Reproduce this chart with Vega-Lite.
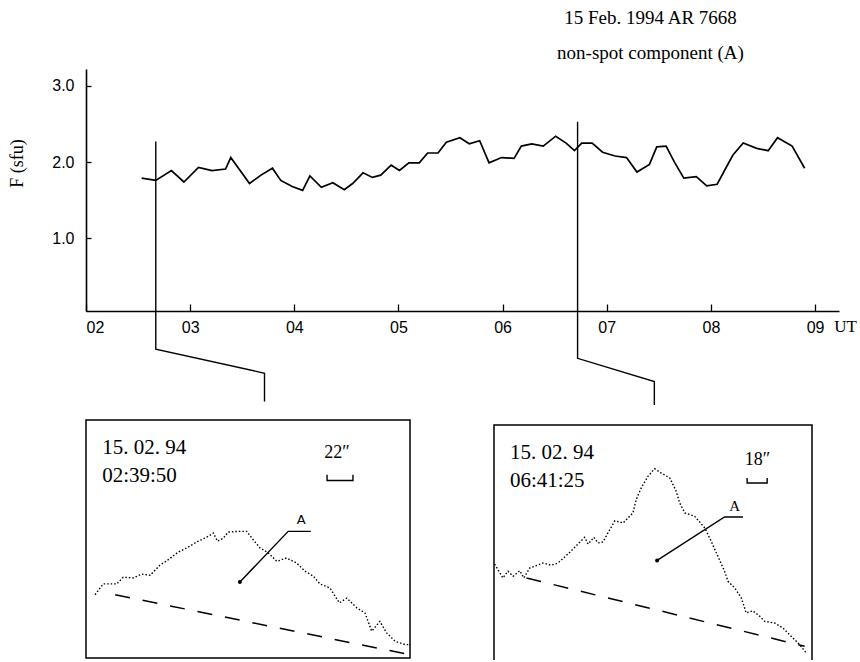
{
  "$schema": "https://vega.github.io/schema/vega-lite/v6.json",
  "background": "white",
  "padding": {"left": 8, "top": 9, "right": 0, "bottom": 0},
  "bounds": "flush",
  "spacing": 109,
  "config": {"view": {"stroke": null}, "font": "Liberation Serif"},
  "vconcat": [
    {
      "width": 753,
      "height": 242,
      "title": {"text": ["15 Feb. 1994 AR 7668", "non-spot component (A)"], "anchor": "middle", "dx": 188, "lineHeight": 35, "offset": 6, "font": "Liberation Serif", "fontSize": 19, "fontWeight": "normal", "color": "black"},
      "layer": [
        {
          "data": {"values": [
            {"time": 2.535, "flux": 1.79}, {"time": 2.67, "flux": 1.76}, {"time": 2.82, "flux": 1.89}, {"time": 2.94, "flux": 1.74},
            {"time": 3.08, "flux": 1.93}, {"time": 3.21, "flux": 1.89}, {"time": 3.34, "flux": 1.91}, {"time": 3.39, "flux": 2.06},
            {"time": 3.57, "flux": 1.72}, {"time": 3.68, "flux": 1.83}, {"time": 3.79, "flux": 1.92}, {"time": 3.87, "flux": 1.76},
            {"time": 3.98, "flux": 1.68}, {"time": 4.08, "flux": 1.63}, {"time": 4.15, "flux": 1.82}, {"time": 4.26, "flux": 1.67},
            {"time": 4.37, "flux": 1.73}, {"time": 4.48, "flux": 1.64}, {"time": 4.56, "flux": 1.72}, {"time": 4.66, "flux": 1.86},
            {"time": 4.75, "flux": 1.80}, {"time": 4.83, "flux": 1.83}, {"time": 4.93, "flux": 1.96}, {"time": 5.01, "flux": 1.89},
            {"time": 5.10, "flux": 1.99}, {"time": 5.20, "flux": 1.99}, {"time": 5.28, "flux": 2.12}, {"time": 5.38, "flux": 2.12},
            {"time": 5.46, "flux": 2.26}, {"time": 5.59, "flux": 2.32}, {"time": 5.68, "flux": 2.24}, {"time": 5.78, "flux": 2.28},
            {"time": 5.87, "flux": 1.99}, {"time": 5.99, "flux": 2.06}, {"time": 6.11, "flux": 2.05}, {"time": 6.18, "flux": 2.21},
            {"time": 6.28, "flux": 2.24}, {"time": 6.39, "flux": 2.21}, {"time": 6.51, "flux": 2.34}, {"time": 6.61, "flux": 2.25},
            {"time": 6.69, "flux": 2.15}, {"time": 6.76, "flux": 2.25}, {"time": 6.86, "flux": 2.25}, {"time": 6.96, "flux": 2.13},
            {"time": 7.08, "flux": 2.08}, {"time": 7.19, "flux": 2.06}, {"time": 7.29, "flux": 1.87}, {"time": 7.41, "flux": 1.97},
            {"time": 7.48, "flux": 2.20}, {"time": 7.57, "flux": 2.21}, {"time": 7.65, "flux": 2.00}, {"time": 7.74, "flux": 1.79},
            {"time": 7.86, "flux": 1.81}, {"time": 7.96, "flux": 1.69}, {"time": 8.06, "flux": 1.71}, {"time": 8.21, "flux": 2.09},
            {"time": 8.31, "flux": 2.25}, {"time": 8.44, "flux": 2.18}, {"time": 8.55, "flux": 2.15}, {"time": 8.64, "flux": 2.32},
            {"time": 8.78, "flux": 2.21}, {"time": 8.90, "flux": 1.92}
          ]},
          "mark": {"type": "line", "color": "black", "strokeWidth": 1.7, "clip": false},
          "encoding": {
            "x": {"field": "time", "type": "quantitative", "scale": {"domain": [2, 9.23], "nice": false, "zero": false},
              "axis": {"values": [2, 3, 4, 5, 6, 7, 8, 9], "labelExpr": "'0' + datum.value", "grid": false, "labelFlush": true,
                "domainColor": "black", "domainWidth": 1.6, "tickColor": "black", "tickWidth": 1.3, "tickSize": -7, "labelPadding": 15,
                "labelFont": "Liberation Sans", "labelFontSize": 16, "labelColor": "black",
                "title": "UT", "titleX": 759, "titleY": 15, "titleAlign": "center", "titleBaseline": "middle", "titleFont": "Liberation Serif", "titleFontSize": 17, "titleFontWeight": "normal", "titleColor": "black"}},
            "y": {"field": "flux", "type": "quantitative", "scale": {"domain": [0.05, 3.22], "nice": false, "zero": false},
              "axis": {"values": [1, 2, 3], "format": ".1f", "grid": false,
                "domainColor": "black", "domainWidth": 1.6, "tickColor": "black", "tickWidth": 1.3, "tickSize": -5, "labelPadding": 17,
                "labelFont": "Liberation Sans", "labelFontSize": 16, "labelColor": "black",
                "title": "F (sfu)", "titleX": -69, "titleY": 94, "titleAlign": "center", "titleBaseline": "middle", "titleFont": "Liberation Serif", "titleFontSize": 18, "titleFontWeight": "normal", "titleColor": "black"}}
          }
        },
        {
          "data": {"values": [
            {"id": "L", "k": 1, "time": 2.67, "flux": 2.27}, {"id": "L", "k": 2, "time": 2.67, "flux": -0.45},
            {"id": "L", "k": 3, "time": 3.714, "flux": -0.765}, {"id": "L", "k": 4, "time": 3.714, "flux": -1.135},
            {"id": "R", "k": 1, "time": 6.72, "flux": 2.53}, {"id": "R", "k": 2, "time": 6.72, "flux": -0.57},
            {"id": "R", "k": 3, "time": 7.457, "flux": -0.873}, {"id": "R", "k": 4, "time": 7.457, "flux": -1.18}
          ]},
          "mark": {"type": "line", "color": "black", "strokeWidth": 1.4, "clip": false},
          "encoding": {
            "x": {"field": "time", "type": "quantitative", "scale": {"domain": [2, 9.23], "nice": false, "zero": false}},
            "y": {"field": "flux", "type": "quantitative", "scale": {"domain": [0.05, 3.22], "nice": false, "zero": false}},
            "detail": {"field": "id"},
            "order": {"field": "k", "type": "quantitative"}
          }
        }
      ]
    },
    {
      "hconcat": [
        {
          "width": 324,
          "height": 240,
          "encoding": {
            "x": {"field": "x", "type": "quantitative", "scale": {"domain": [0, 100], "nice": false, "zero": false}, "axis": null},
            "y": {"field": "y", "type": "quantitative", "scale": {"domain": [0, 100], "nice": false, "zero": false}, "axis": null}
          },
          "layer": [
            {
              "data": {"values": [{"x": 0, "x2": 100, "y": 0.8, "y2": 100}]},
              "mark": {"type": "rect", "filled": false, "stroke": "black", "strokeWidth": 1.5, "clip": false},
              "encoding": {"x2": {"field": "x2"}, "y2": {"field": "y2"}}
            },
            {
              "data": {"values": [
                {"x": 2.8, "y": 27.2}, {"x": 5.3, "y": 31.7}, {"x": 9.5, "y": 31.7}, {"x": 11.5, "y": 34.5}, {"x": 14.6, "y": 34.2},
                {"x": 17.2, "y": 35.8}, {"x": 19.8, "y": 35.3}, {"x": 22.8, "y": 39.5}, {"x": 25.4, "y": 41.8}, {"x": 28.5, "y": 45.0},
                {"x": 31.1, "y": 46.7}, {"x": 34.2, "y": 49.2}, {"x": 37.7, "y": 51.5}, {"x": 39.3, "y": 52.9}, {"x": 40.6, "y": 49.5},
                {"x": 42.4, "y": 50.8}, {"x": 43.9, "y": 53.3}, {"x": 47.0, "y": 53.6}, {"x": 49.6, "y": 53.6}, {"x": 51.6, "y": 50.1},
                {"x": 53.7, "y": 46.7}, {"x": 56.3, "y": 44.6}, {"x": 58.9, "y": 41.1}, {"x": 61.9, "y": 42.5}, {"x": 65.0, "y": 40.4},
                {"x": 67.6, "y": 37.0}, {"x": 70.2, "y": 34.9}, {"x": 72.2, "y": 31.7}, {"x": 75.3, "y": 30.0}, {"x": 78.2, "y": 23.8},
                {"x": 80.5, "y": 25.8}, {"x": 83.6, "y": 21.7}, {"x": 86.1, "y": 19.6}, {"x": 88.2, "y": 12.0}, {"x": 90.7, "y": 16.1},
                {"x": 92.8, "y": 11.3}, {"x": 95.4, "y": 7.8}, {"x": 98.5, "y": 6.4}, {"x": 100.2, "y": 6.4}
              ]},
              "mark": {"type": "line", "color": "black", "strokeWidth": 1.4, "strokeDash": [1.5, 2], "clip": false}
            },
            {
              "data": {"values": [{"x": 9.0, "y": 27.2}, {"x": 98.5, "y": 2.6}]},
              "mark": {"type": "line", "color": "black", "strokeWidth": 1.5, "strokeDash": [15, 13], "clip": false}
            },
            {
              "data": {"values": [{"k": 1, "x": 47.5, "y": 32.5}, {"k": 2, "x": 62.4, "y": 53.6}, {"k": 3, "x": 69.4, "y": 53.6}]},
              "mark": {"type": "line", "color": "black", "strokeWidth": 1.4, "clip": false},
              "encoding": {"order": {"field": "k", "type": "quantitative"}}
            },
            {
              "data": {"values": [{"x": 47.5, "y": 32.5}]},
              "mark": {"type": "point", "filled": true, "color": "black", "size": 16, "opacity": 1}
            },
            {
              "data": {"values": [{"k": 1, "x": 74.4, "y": 77.2}, {"k": 2, "x": 74.4, "y": 74.8}, {"k": 3, "x": 82.4, "y": 74.8}, {"k": 4, "x": 82.4, "y": 77.2}]},
              "mark": {"type": "line", "color": "black", "strokeWidth": 1.4, "clip": false},
              "encoding": {"order": {"field": "k", "type": "quantitative"}}
            },
            {
              "data": {"values": [{"label": "15. 02. 94", "x": 5.0, "y": 88.3}, {"label": "02:39:50", "x": 5.0, "y": 76.7}]},
              "mark": {"type": "text", "align": "left", "baseline": "middle", "font": "Liberation Serif", "fontSize": 21, "color": "black"},
              "encoding": {"text": {"field": "label"}}
            },
            {
              "data": {"values": [{"label": "22″", "x": 77.5, "y": 86.3}]},
              "mark": {"type": "text", "align": "center", "baseline": "middle", "font": "Liberation Serif", "fontSize": 18, "color": "black"},
              "encoding": {"text": {"field": "label"}}
            },
            {
              "data": {"values": [{"label": "A", "x": 66.4, "y": 58.5}]},
              "mark": {"type": "text", "align": "center", "baseline": "middle", "font": "DejaVu Sans", "fontSize": 13, "color": "black"},
              "encoding": {"text": {"field": "label"}}
            }
          ]
        },
        {
          "width": 318,
          "height": 240,
          "encoding": {
            "x": {"field": "x", "type": "quantitative", "scale": {"domain": [0, 100], "nice": false, "zero": false}, "axis": null},
            "y": {"field": "y", "type": "quantitative", "scale": {"domain": [0, 100], "nice": false, "zero": false}, "axis": null}
          },
          "layer": [
            {
              "data": {"values": [{"k": 1, "x": 0, "y": 0}, {"k": 2, "x": 0, "y": 97.9}, {"k": 3, "x": 100, "y": 97.9}, {"k": 4, "x": 100, "y": 0}]},
              "mark": {"type": "line", "color": "black", "strokeWidth": 1.5, "clip": false},
              "encoding": {"order": {"field": "k", "type": "quantitative"}}
            },
            {
              "data": {"values": [
                {"x": 0.2, "y": 40.0}, {"x": 2.8, "y": 34.2}, {"x": 4.4, "y": 37.0}, {"x": 6.0, "y": 34.9}, {"x": 8.1, "y": 37.2},
                {"x": 9.4, "y": 34.2}, {"x": 11.2, "y": 38.3}, {"x": 15.4, "y": 40.4}, {"x": 18.0, "y": 39.5}, {"x": 20.1, "y": 40.4},
                {"x": 23.3, "y": 44.2}, {"x": 26.4, "y": 48.3}, {"x": 28.5, "y": 51.1}, {"x": 29.6, "y": 48.3}, {"x": 31.4, "y": 51.1},
                {"x": 32.7, "y": 48.8}, {"x": 34.3, "y": 49.2}, {"x": 35.8, "y": 52.9}, {"x": 38.0, "y": 58.0}, {"x": 40.6, "y": 57.1},
                {"x": 43.7, "y": 61.3}, {"x": 44.7, "y": 66.8}, {"x": 46.3, "y": 71.7}, {"x": 48.4, "y": 76.5}, {"x": 50.5, "y": 79.7},
                {"x": 52.6, "y": 77.9}, {"x": 55.3, "y": 75.8}, {"x": 57.3, "y": 70.3}, {"x": 58.4, "y": 65.4}, {"x": 60.0, "y": 61.3},
                {"x": 63.1, "y": 59.9}, {"x": 66.3, "y": 55.0}, {"x": 68.3, "y": 49.5}, {"x": 70.4, "y": 43.2}, {"x": 72.5, "y": 37.0},
                {"x": 73.6, "y": 32.8}, {"x": 75.7, "y": 30.0}, {"x": 77.8, "y": 25.8}, {"x": 79.3, "y": 19.6}, {"x": 81.4, "y": 20.5},
                {"x": 83.6, "y": 18.2}, {"x": 85.1, "y": 16.1}, {"x": 88.3, "y": 15.4}, {"x": 90.9, "y": 13.3}, {"x": 93.0, "y": 10.5},
                {"x": 96.1, "y": 6.4}, {"x": 98.2, "y": 2.9}
              ]},
              "mark": {"type": "line", "color": "black", "strokeWidth": 1.4, "strokeDash": [1.5, 2], "clip": false}
            },
            {
              "data": {"values": [{"x": 10.2, "y": 34.2}, {"x": 97.7, "y": 5.7}]},
              "mark": {"type": "line", "color": "black", "strokeWidth": 1.5, "strokeDash": [15, 13], "clip": false}
            },
            {
              "data": {"values": [{"k": 1, "x": 51.3, "y": 41.5}, {"k": 2, "x": 72.5, "y": 59.6}, {"k": 3, "x": 78.3, "y": 59.6}]},
              "mark": {"type": "line", "color": "black", "strokeWidth": 1.4, "clip": false},
              "encoding": {"order": {"field": "k", "type": "quantitative"}}
            },
            {
              "data": {"values": [{"x": 51.3, "y": 41.5}]},
              "mark": {"type": "point", "filled": true, "color": "black", "size": 16, "opacity": 1}
            },
            {
              "data": {"values": [{"k": 1, "x": 79.6, "y": 75.8}, {"k": 2, "x": 79.6, "y": 73.75}, {"k": 3, "x": 85.9, "y": 73.75}, {"k": 4, "x": 85.9, "y": 75.8}]},
              "mark": {"type": "line", "color": "black", "strokeWidth": 1.4, "clip": false},
              "encoding": {"order": {"field": "k", "type": "quantitative"}}
            },
            {
              "data": {"values": [{"label": "15. 02. 94", "x": 5.0, "y": 86.3}, {"label": "06:41:25", "x": 5.0, "y": 74.5}]},
              "mark": {"type": "text", "align": "left", "baseline": "middle", "font": "Liberation Serif", "fontSize": 21, "color": "black"},
              "encoding": {"text": {"field": "label"}}
            },
            {
              "data": {"values": [{"label": "18″", "x": 82.9, "y": 83.5}]},
              "mark": {"type": "text", "align": "center", "baseline": "middle", "font": "Liberation Serif", "fontSize": 18, "color": "black"},
              "encoding": {"text": {"field": "label"}}
            },
            {
              "data": {"values": [{"label": "A", "x": 75.7, "y": 64.0}]},
              "mark": {"type": "text", "align": "center", "baseline": "middle", "font": "Liberation Serif", "fontSize": 15, "color": "black"},
              "encoding": {"text": {"field": "label"}}
            }
          ]
        }
      ],
      "spacing": 84,
      "bounds": "flush"
    }
  ]
}
